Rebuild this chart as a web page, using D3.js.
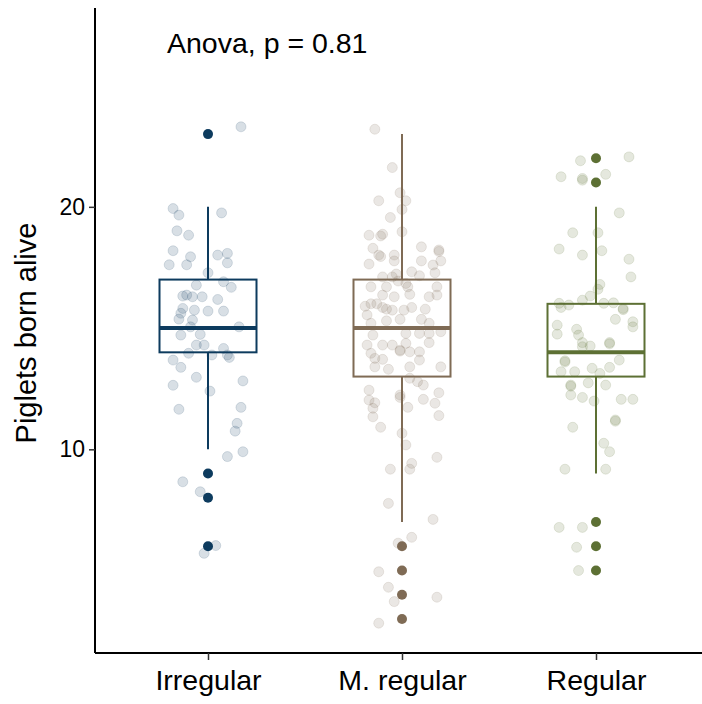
<!DOCTYPE html>
<html>
<head>
<meta charset="utf-8">
<script src="https://cdn.jsdelivr.net/npm/d3@7"></script>
<style>
  body { margin: 0; background: #fff; }
  text { font-family: "Liberation Sans", Arial, sans-serif; fill: #000; }
</style>
</head>
<body>
<div></div>
<script>
// groups and their colours
var categories = ["Irregular", "M. regular", "Regular"];
var colors = ["#0d3b5e", "#7f6b55", "#5d7034"];

// box stats: [lower whisker, q1, median, q3, upper whisker]
var boxStats = [
  [10, 14, 15, 17, 20],
  [7, 13, 15, 17, 23],
  [9, 13, 14, 16, 20]
];

// outliers per group
var outliers = [
  [23, 9, 8, 6],
  [6, 5, 4, 3],
  [22, 21, 7, 6, 5]
];

// jittered raw points: [x offset in category units, value]
var irregularPts = [
  [0.17, 23.3], [-0.18, 19.93], [-0.15, 19.66], [0.07, 19.75], [-0.16, 19.01],
  [-0.10, 18.83], [-0.18, 18.19], [-0.09, 17.94], [0.05, 18.01], [0.10, 18.08],
  [-0.20, 17.61], [-0.11, 17.61], [0.10, 17.69], [0.00, 17.28], [-0.06, 16.77],
  [0.08, 16.91], [0.12, 16.68], [-0.11, 16.36], [-0.13, 16.32], [-0.08, 16.29],
  [-0.03, 16.29], [0.05, 16.18], [-0.13, 15.81], [-0.07, 15.74], [0.00, 15.70],
  [0.08, 15.70], [-0.14, 15.61], [-0.15, 15.37], [-0.08, 15.33], [-0.09, 15.05],
  [0.16, 15.05], [-0.14, 14.71], [-0.04, 14.74], [-0.06, 14.30], [-0.02, 14.30],
  [-0.10, 13.96], [0.02, 13.89], [0.08, 14.16], [0.10, 13.89], [0.11, 13.79],
  [-0.18, 13.68], [-0.14, 13.38], [-0.06, 12.97], [0.18, 12.82], [-0.18, 12.64],
  [0.01, 12.40], [-0.15, 11.65], [0.17, 11.73], [0.15, 11.07], [0.14, 10.75],
  [0.18, 9.90], [0.10, 9.70], [-0.13, 8.66], [-0.04, 8.25], [0.04, 6.03],
  [-0.02, 5.71]
];
var mRegularPts = [
  [-0.14, 23.20], [-0.05, 21.62], [-0.01, 20.58], [0.02, 20.25], [-0.12, 20.25],
  [0.00, 19.89], [-0.06, 19.56], [0.00, 18.97], [-0.17, 18.83], [-0.10, 18.87],
  [-0.11, 18.80], [0.10, 18.35], [0.19, 18.22], [0.19, 18.16], [-0.15, 18.29],
  [-0.12, 18.01], [-0.11, 17.95], [-0.04, 18.01], [-0.17, 17.64], [-0.04, 17.77],
  [0.10, 17.77], [0.20, 17.77], [0.16, 17.60], [0.17, 17.28], [0.05, 17.32],
  [0.09, 17.16], [-0.10, 17.11], [-0.03, 17.23], [-0.05, 17.11], [-0.02, 16.94],
  [0.02, 16.84], [-0.16, 16.70], [-0.08, 16.70], [0.03, 16.70], [0.18, 16.70],
  [-0.10, 16.36], [-0.04, 16.29], [0.04, 16.39], [0.14, 16.29], [0.18, 16.36],
  [-0.19, 15.90], [-0.16, 16.00], [-0.13, 16.00], [-0.10, 15.85], [-0.08, 15.78],
  [-0.05, 15.74], [0.01, 15.74], [0.05, 15.85], [0.12, 15.78], [-0.18, 15.54],
  [-0.08, 15.30], [-0.01, 15.36], [0.10, 15.36], [-0.16, 15.20], [0.14, 15.20],
  [-0.15, 14.71], [0.02, 14.78], [0.09, 14.78], [0.14, 14.78], [0.20, 14.85],
  [-0.18, 14.30], [-0.10, 14.30], [-0.05, 14.30], [0.02, 14.37], [0.14, 14.40],
  [-0.01, 14.09], [-0.01, 14.05], [0.04, 14.02], [0.09, 14.02], [-0.16, 13.96],
  [-0.14, 13.75], [-0.10, 13.71], [0.09, 13.68], [-0.14, 13.40], [-0.07, 13.30],
  [0.04, 13.40], [0.20, 13.40], [0.04, 12.93], [0.08, 12.79], [0.11, 12.65],
  [-0.17, 12.44], [-0.01, 12.24], [0.19, 12.33], [-0.17, 12.03], [-0.14, 11.92],
  [-0.15, 11.69], [-0.15, 11.34], [-0.11, 10.91], [-0.01, 12.14], [0.03, 11.73],
  [0.11, 12.06], [0.17, 11.90], [0.19, 11.39], [0.00, 10.66], [0.02, 10.18],
  [0.18, 9.67], [0.05, 9.42], [-0.06, 9.18], [0.04, 9.18], [-0.07, 7.77],
  [0.16, 7.11], [0.05, 6.37], [-0.02, 6.13], [-0.12, 4.95], [-0.07, 4.31],
  [-0.04, 3.72], [0.18, 3.90], [-0.12, 2.83]
];
var regularPts = [
  [-0.08, 21.90], [0.17, 22.06], [-0.18, 21.24], [-0.07, 21.17], [-0.07, 21.10],
  [0.05, 21.34], [0.12, 19.75], [-0.12, 18.93], [0.01, 18.93], [-0.19, 18.26],
  [-0.07, 18.01], [0.03, 18.19], [0.17, 17.84], [0.18, 17.11], [0.02, 16.80],
  [0.01, 16.60], [-0.03, 16.32], [-0.07, 16.15], [-0.19, 16.02], [-0.14, 15.95],
  [-0.18, 15.85], [0.04, 16.02], [0.09, 16.04], [0.14, 15.81], [0.14, 15.76],
  [0.10, 15.36], [0.19, 15.26], [0.19, 15.05], [-0.20, 15.12], [-0.20, 14.75],
  [-0.10, 14.95], [-0.09, 14.71], [-0.07, 14.40], [-0.07, 14.23], [-0.03, 14.26],
  [0.07, 14.40], [0.07, 14.35], [-0.16, 13.65], [-0.16, 13.60], [0.12, 13.68],
  [0.07, 13.38], [-0.02, 13.34], [-0.11, 13.20], [-0.18, 13.20], [0.02, 13.13],
  [-0.13, 12.65], [-0.13, 12.60], [-0.04, 12.74], [0.05, 12.65], [-0.13, 12.24],
  [-0.07, 12.14], [-0.01, 11.99], [0.13, 12.06], [0.19, 12.06], [0.10, 11.21],
  [0.10, 11.16], [-0.12, 10.91], [0.04, 10.25], [0.07, 9.90], [-0.16, 9.18],
  [0.05, 9.18], [-0.19, 6.78], [-0.07, 6.78], [-0.10, 5.96], [-0.09, 5.00]
];
var points = [irregularPts, mRegularPts, regularPts];

var yTicks = [10, 20];
var yTitle = "Piglets born alive";
var annotation = "Anova, p = 0.81";

var W = 702, H = 704;
var marginLeft = 95, marginTop = 8, axisY = 653;
var boxWidth = 0.5;  // in category units

var svg = d3.select("div").append("svg")
    .attr("width", W)
    .attr("height", H);

// first group sits at 208, groups 194px apart
var x = d3.scalePoint()
    .domain(categories)
    .range([208 - 0.6 * 194, 208 + 2.6 * 194])
    .padding(0.6);
var step = x.step();

var y = d3.scaleLinear()
    .domain([1.6, 28.2])
    .range([axisY, marginTop]);

// boxes
categories.forEach(function(cat, i) {
    var cx = x(cat);
    var s = boxStats[i];
    var col = colors[i];
    var g = svg.append("g");
    var hw = boxWidth * step / 2;

    g.append("line")
        .attr("x1", cx).attr("x2", cx)
        .attr("y1", y(s[3])).attr("y2", y(s[4]))
        .attr("stroke", col).attr("stroke-width", 2);
    g.append("line")
        .attr("x1", cx).attr("x2", cx)
        .attr("y1", y(s[0])).attr("y2", y(s[1]))
        .attr("stroke", col).attr("stroke-width", 2);
    g.append("rect")
        .attr("x", cx - hw).attr("width", 2 * hw)
        .attr("y", y(s[3])).attr("height", y(s[1]) - y(s[3]))
        .attr("fill", "none")
        .attr("stroke", col).attr("stroke-width", 2);
    g.append("line")
        .attr("x1", cx - hw).attr("x2", cx + hw)
        .attr("y1", y(s[2])).attr("y2", y(s[2]))
        .attr("stroke", col).attr("stroke-width", 4);

    g.selectAll("circle.out")
        .data(outliers[i])
        .enter().append("circle")
        .attr("class", "out")
        .attr("cx", cx)
        .attr("cy", function(d) { return y(d); })
        .attr("r", 5)
        .attr("fill", col);

    g.selectAll("circle.pt")
        .data(points[i])
        .enter().append("circle")
        .attr("class", "pt")
        .attr("cx", function(d) { return cx + d[0] * step; })
        .attr("cy", function(d) { return y(d[1]); })
        .attr("r", 5)
        .attr("fill", col)
        .attr("fill-opacity", 0.16)
        .attr("stroke", col)
        .attr("stroke-opacity", 0.14)
        .attr("stroke-width", 1);
});

// axes
var yAxis = svg.append("g")
    .attr("transform", "translate(" + marginLeft + ",0)")
    .call(d3.axisLeft(y).tickValues(yTicks).tickSize(6).tickPadding(4));
var xAxis = svg.append("g")
    .attr("transform", "translate(0," + axisY + ")")
    .call(d3.axisBottom(x).tickSize(7).tickPadding(10));

[yAxis, xAxis].forEach(function(a) {
    a.select(".domain").attr("stroke", "#000").attr("stroke-width", 2);
    a.selectAll(".tick line").attr("stroke", "#333").attr("stroke-width", 1.5);
});
yAxis.select(".domain").attr("d", "M0," + marginTop + "V" + axisY);
xAxis.select(".domain").attr("d", "M" + marginLeft + ",0H" + W);
yAxis.selectAll(".tick text").attr("font-size", 23).attr("fill", "#1a1a1a")
    .style("font-family", "'Liberation Sans', Arial, sans-serif");
xAxis.selectAll(".tick text").attr("font-size", 28.5).attr("fill", "#1a1a1a")
    .style("font-family", "'Liberation Sans', Arial, sans-serif");

svg.append("text")
    .attr("transform", "translate(36,333) rotate(-90)")
    .attr("text-anchor", "middle")
    .attr("font-size", 29)
    .text(yTitle);

svg.append("text")
    .attr("x", 167)
    .attr("y", 53)
    .attr("font-size", 28.5)
    .text(annotation);
</script>
</body>
</html>
